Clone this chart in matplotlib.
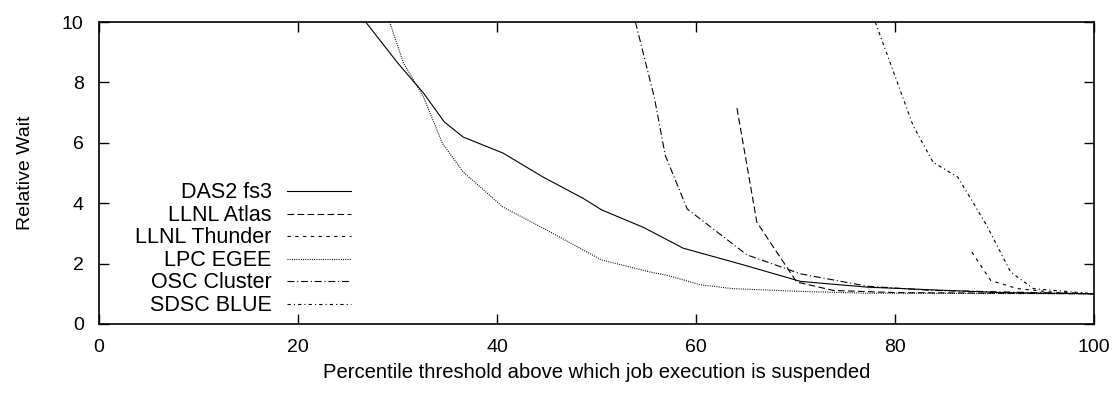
import numpy as np
from matplotlib import pyplot as plt
from matplotlib.lines import Line2D

plt.rcParams['font.family'] = ['Liberation Sans', 'DejaVu Sans']
plt.rcParams['font.size'] = 14
plt.rcParams['lines.scale_dashes'] = False

# relative wait vs. suspension threshold, one series per trace
das2_x = [26.8, 30.0, 32.6, 34.7, 36.6, 40.6, 44.6, 48.6, 50.5, 54.7, 58.7, 64.4, 70.5, 77.2, 83.8, 90.6, 100]
das2_y = [10.0, 8.65, 7.65, 6.69, 6.19, 5.66, 4.87, 4.17, 3.78, 3.20, 2.51, 1.99, 1.41, 1.22, 1.13, 1.04, 1.0]

atlas_x = [64.1, 66.1, 70.1, 73.8, 80.0, 90.0, 100]
atlas_y = [7.15, 3.37, 1.39, 1.11, 1.04, 1.02, 1.0]

thunder_x = [87.7, 89.6, 92.3, 96.0, 100]
thunder_y = [2.38, 1.44, 1.17, 1.05, 1.0]

egee_x = [29.2, 30.6, 32.6, 34.5, 36.6, 40.6, 44.6, 50.5, 55.4, 57.1, 60.4, 63.7, 70.5, 77.0, 100]
egee_y = [10.0, 8.64, 7.52, 5.99, 5.03, 3.87, 3.18, 2.12, 1.72, 1.61, 1.30, 1.17, 1.08, 1.02, 1.0]

osc_x = [53.9, 55.8, 56.9, 59.1, 65.1, 70.5, 77.2, 83.8, 100]
osc_y = [10.0, 7.5, 5.58, 3.81, 2.29, 1.66, 1.25, 1.11, 1.0]

blue_x = [78.0, 81.8, 83.8, 86.3, 89.2, 91.6, 93.9, 100]
blue_y = [10.0, 6.57, 5.36, 4.86, 3.26, 1.72, 1.17, 1.0]

labels = ["DAS2 fs3", "LLNL Atlas", "LLNL Thunder", "LPC EGEE", "OSC Cluster", "SDSC BLUE"]
series = [(das2_x, das2_y), (atlas_x, atlas_y), (thunder_x, thunder_y),
          (egee_x, egee_y), (osc_x, osc_y), (blue_x, blue_y)]
styles = ['-', (0, (4.8, 2.4)), (0, (2.4, 3.2)), (0, (0.7, 0.9)),
          (0, (5, 2, 0.8, 2)), (0, (2.4, 2.2, 0.8, 2.2))]

fig = plt.figure(figsize=(11.2, 3.94), dpi=100)
ax = fig.add_axes([0.0884, 0.1777, 0.8886, 0.7663])

for (x, y), ls in zip(series, styles):
    ax.plot(x, y, color='black', linestyle=ls, linewidth=0.8)

ax.set_xlim(0, 100)
ax.set_ylim(0, 10)
ax.set_xticks(np.arange(0, 101, 20))
ax.set_yticks(np.arange(0, 11, 2))
ax.tick_params(direction='in', length=7, width=1, top=True, right=True)
ax.tick_params(axis='x', pad=11)
ax.tick_params(axis='y', pad=11)
for s in ax.spines.values():
    s.set_linewidth(1.2)

ax.set_xlabel("Percentile threshold above which job execution is suspended",
              fontsize=14.6, labelpad=5)
ax.set_ylabel("Relative Wait", labelpad=20)

# gnuplot-style key: right aligned text, sample line to its right
row0, dy = 0.417, 0.0745
for i, (lab, ls) in enumerate(zip(labels, styles)):
    yy = row0 - i * dy
    ax.text(0.1735, yy, lab, transform=ax.transAxes, ha='right', va='baseline',
            fontsize=15.5)
    ax.add_line(Line2D([0.189, 0.253], [yy + 0.022, yy + 0.022], transform=ax.transAxes,
                       color='black', linestyle=ls, linewidth=0.8))

fig.savefig('out.png', dpi=100)
